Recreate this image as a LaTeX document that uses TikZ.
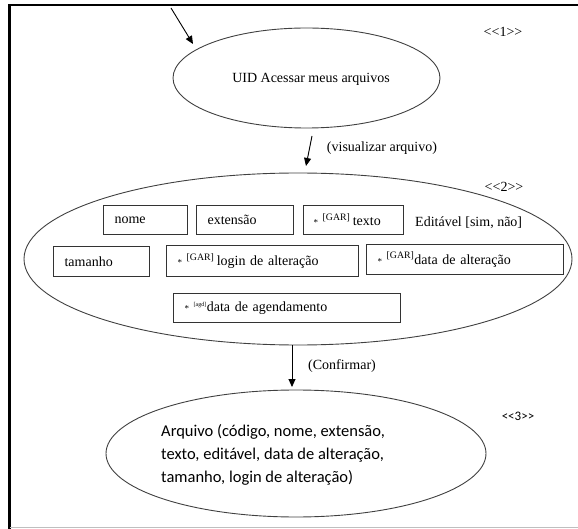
\documentclass[tikz,border=0pt]{standalone}
\usepackage{fontspec}
\setmainfont{Liberation Serif}
\newfontfamily\calib{Carlito}
\usetikzlibrary{shapes.geometric,arrows.meta}
\newcommand\dbl[1]{<\kern0pt<#1>\kern0pt>}
\newcommand\fstar{{\fontsize{9}{9}\selectfont *}}
\begin{document}
\begin{tikzpicture}[x=1pt,y=-1pt,
  every node/.style={font=\fontsize{14}{16}\selectfont, inner sep=0pt},
  oval/.style={ellipse, draw=black!75, line width=0.9pt, inner sep=0pt},
  field/.style={draw=black!80, line width=1.1pt, rectangle, inner ysep=0pt, inner xsep=11pt, align=left, anchor=north west},
  arr/.style={-{Triangle[length=8pt,width=7pt]}, line width=0.9pt}
]
\useasboundingbox (0,0) rectangle (578,529);
\draw[line width=2.5pt] (9.5,529) -- (9.5,5) -- (578,5);
\draw[black!25, line width=1pt] (10,527) -- (578,527);

% ellipses
\node[oval, minimum width=267pt, minimum height=100pt] (e1) at (306.5,78) {};
\node (e1t) at (311,79) {UID Acessar meus arquivos};
\node[oval, minimum width=548pt, minimum height=172pt] (e2) at (298,259) {};
\node[oval, minimum width=380pt, minimum height=127pt] (e3) at (296,453.5) {};
\node[align=left, anchor=west, font=\calib\fontsize{16.5}{23}\selectfont] (e3t) at (161,455)
  {Arquivo (código, nome, extensão,\\texto, editável, data de alteração,\\tamanho, login de alteração)};

% fields
\node[field, text width=62pt, minimum height=29pt] (nome) at (103,205) {nome};
\node[field, text width=75pt, minimum height=29pt] (ext) at (196,205) {extensão};
\node[field, text width=80pt, minimum height=29pt, inner xsep=10pt] (texto) at (303,205)
  {\fstar\ \textsuperscript{[GAR]}\,texto};
\node[anchor=west] (edit) at (415,223) {Editável [sim, não]};
\node[field, text width=74pt, minimum height=30pt] (tam) at (53,246) {tamanho};
\node[field, text width=170pt, minimum height=31pt] (login) at (166,245)
  {\fstar\ \textsuperscript{[GAR]}\,login de alteração};
\node[field, text width=175pt, minimum height=30pt] (dalt) at (366,244)
  {\fstar\ \textsuperscript{[GAR]}data de alteração};
\node[field, text width=205pt, minimum height=29pt] (dag) at (173,293)
  {\fstar\ \textsuperscript{\fontsize{6}{6}\selectfont[agd]}data de agendamento};

% stereotypes
\node (s1) at (503,32) {\dbl{1}};
\node (s2) at (504,187) {\dbl{2}};
\node[font=\calib\fontsize{13}{15}\selectfont] (s3) at (518,416) {\dbl{3}};

% arrows
\coordinate (a0) at (171,8);
\coordinate (a1) at (193,44);
\draw[arr] (a0) -- (a1);
\coordinate (b0) at (312,136);
\coordinate (b1) at (306,166);
\draw[arr] (b0) -- (b1);
\node (lb) at (382,148) {(visualizar arquivo)};
\coordinate (c0) at (292,345);
\coordinate (c1) at (292,387);
\draw[arr] (c0) -- (c1);
\node (lc) at (342,366) {(Confirmar)};
\end{tikzpicture}
\end{document}
